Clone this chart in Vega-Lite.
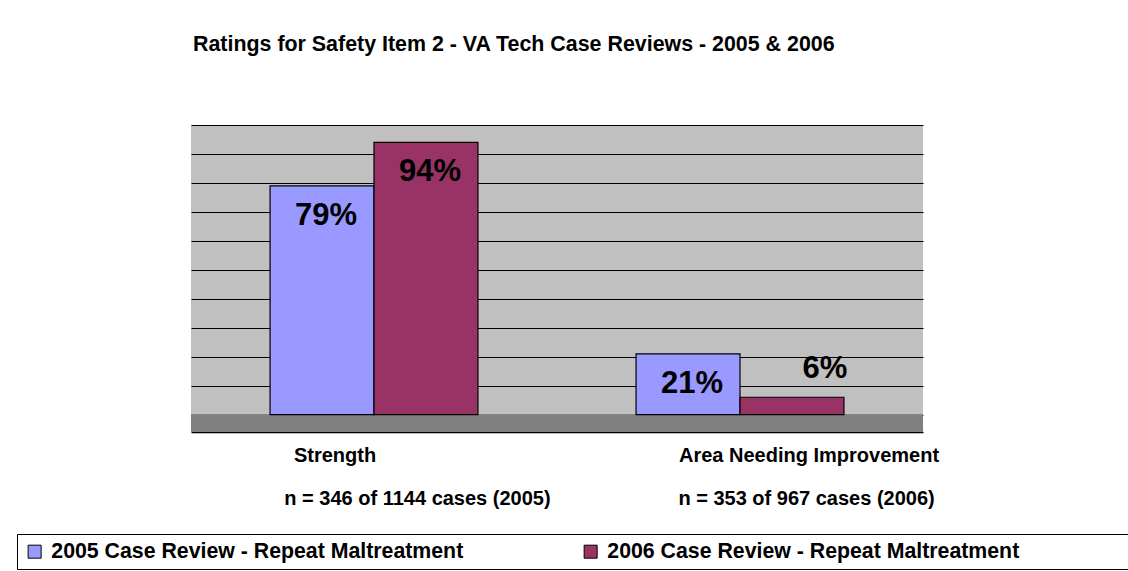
{
  "$schema": "https://vega.github.io/schema/vega-lite/v6.json",
  "autosize": {"type": "none"},
  "width": 732,
  "height": 307,
  "padding": {"left": 191, "top": 125, "right": 205, "bottom": 139},
  "background": "white",
  "title": {
    "text": "Ratings for Safety Item 2 - VA Tech Case Reviews - 2005 & 2006",
    "anchor": "start",
    "frame": "group",
    "dx": 2,
    "offset": 70,
    "font": "Liberation Sans",
    "fontSize": 21.4,
    "fontWeight": "bold",
    "color": "black"
  },
  "config": {
    "view": {"fill": "#C0C0C0", "stroke": null},
    "font": "Liberation Sans"
  },
  "data": {
    "values": [
      {"category": "Strength", "series": "2005 Case Review - Repeat Maltreatment", "value": 0.79},
      {"category": "Strength", "series": "2006 Case Review - Repeat Maltreatment", "value": 0.94},
      {"category": "Area Needing Improvement", "series": "2005 Case Review - Repeat Maltreatment", "value": 0.21},
      {"category": "Area Needing Improvement", "series": "2006 Case Review - Repeat Maltreatment", "value": 0.06}
    ]
  },
  "encoding": {
    "x": {
      "field": "category",
      "type": "nominal",
      "sort": ["Strength", "Area Needing Improvement"],
      "scale": {"paddingInner": 0.432, "paddingOuter": 0.216},
      "axis": {
        "title": "n = 346 of 1144 cases (2005)\u00a0\u00a0\u00a0\u00a0\u00a0\u00a0\u00a0\u00a0\u00a0\u00a0\u00a0\u00a0\u00a0\u00a0\u00a0\u00a0\u00a0\u00a0\u00a0\u00a0\u00a0\u00a0\u00a0n = 353 of 967 cases (2006)",
        "titleFont": "Liberation Sans",
        "titleFontSize": 20,
        "titleFontWeight": "bold",
        "titleColor": "black",
        "titleX": 418,
        "titlePadding": 23,
        "labelFont": "Liberation Sans",
        "labelFontSize": 20,
        "labelFontWeight": "bold",
        "labelColor": "black",
        "labelAngle": 0,
        "labelPadding": 13,
        "labelOffset": {"condition": {"test": "datum.value == 'Strength'", "value": -39}, "value": 69},
        "ticks": false,
        "domainColor": "black",
        "domainWidth": 1.5,
        "labelLimit": 400
      }
    },
    "y": {
      "type": "quantitative",
      "scale": {"domain": [-0.06, 1], "nice": false, "zero": false},
      "axis": {
        "values": [0, 0.1, 0.2, 0.3, 0.4, 0.5, 0.6, 0.7, 0.8, 0.9, 1.0],
        "labels": false,
        "ticks": false,
        "domain": false,
        "title": null,
        "grid": true,
        "gridColor": "black",
        "gridWidth": 1,
        "gridOpacity": 1
      }
    }
  },
  "layer": [
    {
      "mark": {"type": "rect", "fill": "#808080"},
      "encoding": {
        "x": null,
        "y": {"datum": -0.06, "type": "quantitative"},
        "y2": {"datum": 0}
      }
    },
    {
      "mark": {"type": "bar", "stroke": "black", "strokeWidth": 1.2},
      "encoding": {
        "y": {"field": "value", "type": "quantitative"},
        "y2": {"datum": 0},
        "xOffset": {"field": "series", "type": "nominal"},
        "color": {
          "field": "series",
          "type": "nominal",
          "scale": {
            "domain": ["2005 Case Review - Repeat Maltreatment", "2006 Case Review - Repeat Maltreatment"],
            "range": ["#9999FF", "#993366"]
          },
          "legend": {
            "title": null,
            "orient": "none",
            "legendX": -174,
            "legendY": 409,
            "direction": "horizontal",
            "columns": 2,
            "columnPadding": 116,
            "padding": 7,
            "strokeColor": "black",
            "fillColor": "white",
            "symbolType": "square",
            "symbolSize": 169,
            "symbolStrokeColor": "black",
            "symbolStrokeWidth": 1,
            "symbolOffset": 0,
            "labelOffset": 6,
            "labelFont": "Liberation Sans",
            "labelFontSize": 21.3,
            "labelFontWeight": "bold",
            "labelColor": "black",
            "labelLimit": 800,
            "labelExpr": "indexof(datum.value, '2006') >= 0 ? datum.label + '\u2003\u2003\u2003\u2003\u2003\u200b' : datum.label"
          }
        }
      }
    },
    {
      "transform": [{"filter": "datum.value >= 0.1"}],
      "mark": {"type": "text", "font": "Liberation Sans", "fontSize": 31, "fontWeight": "bold", "color": "black", "baseline": "middle", "dy": 30, "dx": 4},
      "encoding": {
        "y": {"field": "value", "type": "quantitative"},
        "xOffset": {"field": "series", "type": "nominal"},
        "text": {"field": "value", "type": "quantitative", "format": ".0%"}
      }
    },
    {
      "transform": [{"filter": "datum.value < 0.1"}],
      "mark": {"type": "text", "font": "Liberation Sans", "fontSize": 31, "fontWeight": "bold", "color": "black", "baseline": "middle", "dy": -28, "dx": 33},
      "encoding": {
        "y": {"field": "value", "type": "quantitative"},
        "xOffset": {"field": "series", "type": "nominal"},
        "text": {"field": "value", "type": "quantitative", "format": ".0%"}
      }
    }
  ]
}
